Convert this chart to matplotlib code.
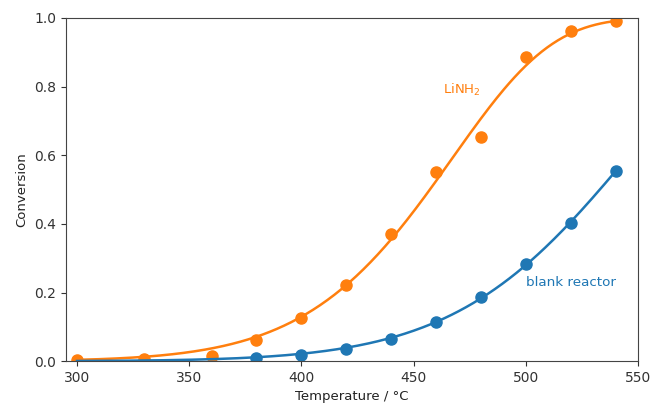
"""
Conversion vs temperature for LiNH2 and the blank reactor, with first-order Arrhenius fits
"""

import numpy as np
import matplotlib
matplotlib.use('Agg')
import matplotlib.pyplot as plt


temp_li = [300, 330, 360, 380, 400, 420, 440, 460, 480, 500, 520, 540]
conv_li = [0.003, 0.007, 0.015, 0.063, 0.127, 0.222, 0.370, 0.552, 0.652, 0.885, 0.962, 0.990]

temp_blank = [380, 400, 420, 440, 460, 480, 500, 520, 540]
conv_blank = [0.008, 0.018, 0.034, 0.065, 0.114, 0.188, 0.284, 0.402, 0.553]

x_ticks = [300, 350, 400, 450, 500, 550]
y_ticks = [0.0, 0.2, 0.4, 0.6, 0.8, 1.0]


def arrhenius_fit(t, y, grid):
    # X = 1 - exp(-exp(a + b*u)), u = 1000/T[K] centred; least squares in X
    t = np.asarray(t, float)
    y = np.asarray(y, float)
    u0 = 1000 / (t.mean() + 273.15)
    u = 1000 / (t + 273.15) - u0
    z = np.log(-np.log(1 - np.clip(y, 1e-4, 0.995)))
    b, a = np.polyfit(u, z, 1, w=np.sqrt(y))
    for _ in range(50):
        zz = a + b * u
        f = 1 - np.exp(-np.exp(zz))
        d = np.exp(-np.exp(zz)) * np.exp(zz)
        J = np.column_stack([d, d * u])
        step, *_ = np.linalg.lstsq(J, y - f, rcond=None)
        a, b = a + step[0], b + step[1]
    ug = 1000 / (grid + 273.15) - u0
    return 1 - np.exp(-np.exp(a + b * ug))


grid = np.linspace(300, 540, 300)

fig = plt.figure(figsize=(6.51, 4.09), dpi=100)
ax = fig.add_axes([0.101, 0.117, 0.879, 0.839])

ax.plot(grid, arrhenius_fit(temp_li, conv_li, grid), color='C1', lw=1.8)
ax.plot(temp_li, conv_li, 'o', color='C1', ms=8)

ax.plot(grid, arrhenius_fit(temp_blank, conv_blank, grid), color='C0', lw=1.8)
ax.plot(temp_blank, conv_blank, 'o', color='C0', ms=8)

ax.text(463, 0.79, 'LiNH$_2$', color='C1', fontsize=9.5, va='center')
ax.text(500, 0.23, 'blank reactor', color='C0', fontsize=9.7, va='center')

ax.set_xlim(295, 550)
ax.set_ylim(0, 1)
ax.set_xticks(x_ticks)
ax.set_yticks(y_ticks)
ax.tick_params(labelsize=10, colors='#333333')
for s in ax.spines.values():
    s.set_color('#444444')

ax.set_xlabel('Temperature / °C', fontsize=9.5, color='#222222')
ax.set_ylabel('Conversion', fontsize=9.5, color='#222222')

fig.savefig('out.png', dpi=100)
